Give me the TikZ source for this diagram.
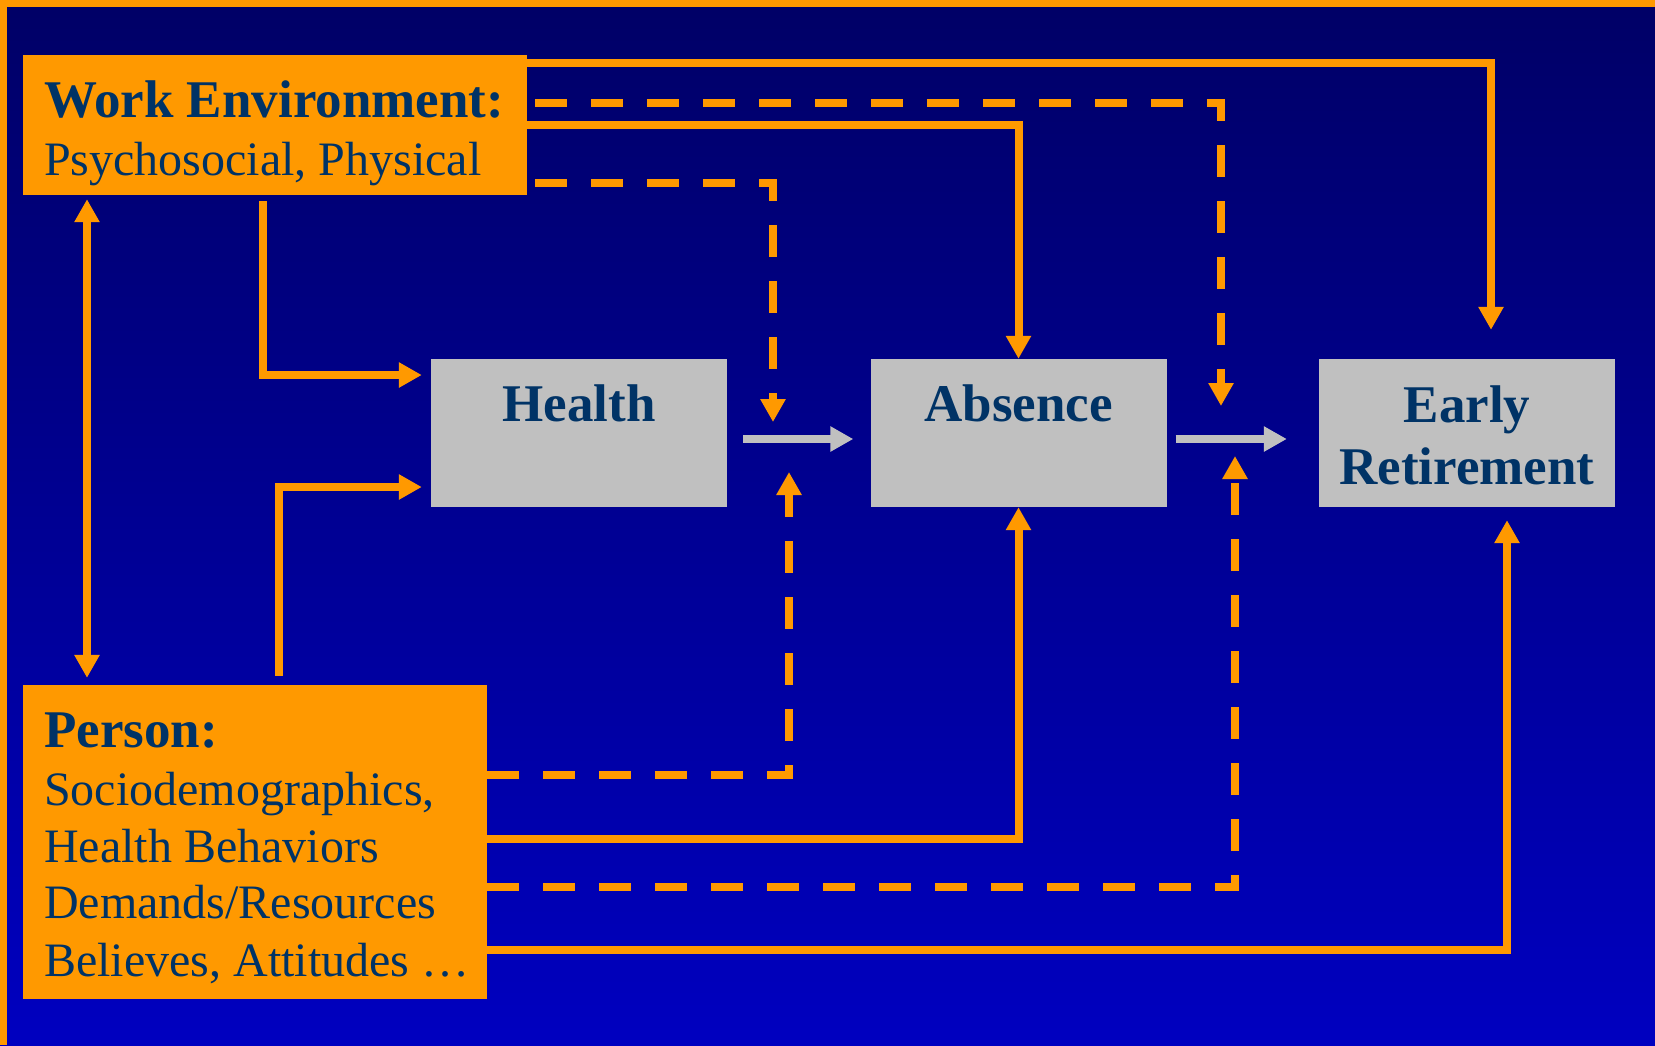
\documentclass[tikz,border=0pt]{standalone}
\usepackage{fontspec}
\setmainfont{Liberation Serif}
\usetikzlibrary{arrows.meta}
\definecolor{bgtop}{HTML}{000066}
\definecolor{bgbot}{HTML}{0000C0}
\definecolor{amber}{HTML}{FF9900}
\definecolor{navy}{HTML}{003366}
\definecolor{boxgray}{HTML}{C0C0C0}

\begin{document}
\begin{tikzpicture}[x=1pt,y=-1pt,
  >={Triangle[length=23pt,width=24pt]},
  link/.style={draw=amber, line width=8pt, ->},
  dlink/.style={link, dash pattern=on 32pt off 24pt},
  gate/.style={draw=boxgray, line width=8pt, ->},
  factor/.style={fill=amber, inner sep=0pt},
  stage/.style={fill=boxgray, inner sep=0pt, minimum width=296pt, minimum height=148pt},
  head/.style={text=navy, inner sep=0pt, font=\fontsize{53}{60}\selectfont\bfseries},
  item/.style={text=navy, inner sep=0pt, anchor=base west, font=\fontsize{48}{57}\selectfont}]
\useasboundingbox (0,0) rectangle (1655,1045);
\shade [top color=bgtop, bottom color=bgbot] (0,0) rectangle (1655,1045);
\fill [amber] (0,0) rectangle (1655,7);
\fill [amber] (0,0) rectangle (7,1045);
% boxes
\node [factor, minimum width=504pt, minimum height=140pt] (work) at (275,125) {};
\node [factor, minimum width=464pt, minimum height=314pt] (person) at (255,842) {};
\node [stage] (health) at (579,433) {};
\node [stage] (absence) at (1018.5,433) {};
\node [stage] (early) at (1467,433) {};
\coordinate (g1) at (798,439);
\coordinate (g2) at (1231,439);
% texts
\node [head, anchor=base west] (workT) at (44,117) {Work Environment:};
\node [item] (workS) at (44,175) {Psychosocial, Physical};
\node [head, anchor=base west] (personT) at (44,747) {Person:};
\node [item] (personA) at (44,805) {Sociodemographics,};
\node [item] (personB) at (44,862) {Health Behaviors};
\node [item] (personC) at (44,918) {Demands/Resources};
\node [item] (personD) at (44,976) {Believes, Attitudes …};
\node [head, anchor=base] (healthT) at (579,421) {Health};
\node [head, anchor=base] (absenceT) at (1018.5,421) {Absence};
\node [head, anchor=base] (earlyT) at (1467,422) {Early};
\node [head, anchor=base] (earlyS) at (1467,484) {Retirement};
% main path
\draw [gate, shorten <=16pt, shorten >=17pt] (health.east |- g1) -- (absence.west |- g1);
\draw [gate, shorten <=9pt, shorten >=32pt] (absence.east |- g2) -- (early.west |- g2);
% from work environment
\draw [link, shorten >=29pt] (work.east |- 0,63) -| ([xshift=24pt]early.north);
\draw [dlink, dash phase=48pt, shorten >=33pt] (work.east |- 0,103) -| ([xshift=-10pt]g2);
\draw [link] (work.east) -| (absence.north);
\draw [dlink, dash phase=48pt, shorten >=17pt] (work.east |- 0,183) -| ([xshift=-25pt]g1);
\draw [link, shorten <=6pt, shorten >=9pt] (work.south -| 263,0) |- (health.west |- 0,375);
\draw [link, <->, shorten <=4pt, shorten >=7pt] (work.south -| 87,0) -- (person.north -| 87,0);
% from person
\draw [link, shorten <=9pt, shorten >=9pt] (person.north -| 279,0) |- (health.west |- 0,487);
\draw [dlink, shorten >=33pt] (person.east |- 0,775) -| ([xshift=-9pt]g1);
\draw [link] (person.east |- 0,839) -| (absence.south);
\draw [dlink, shorten >=17pt] (person.east |- 0,887) -| ([xshift=4pt]g2);
\draw [link, shorten >=13pt] (person.east |- 0,950) -| ([xshift=40pt]early.south);
\end{tikzpicture}
\end{document}
